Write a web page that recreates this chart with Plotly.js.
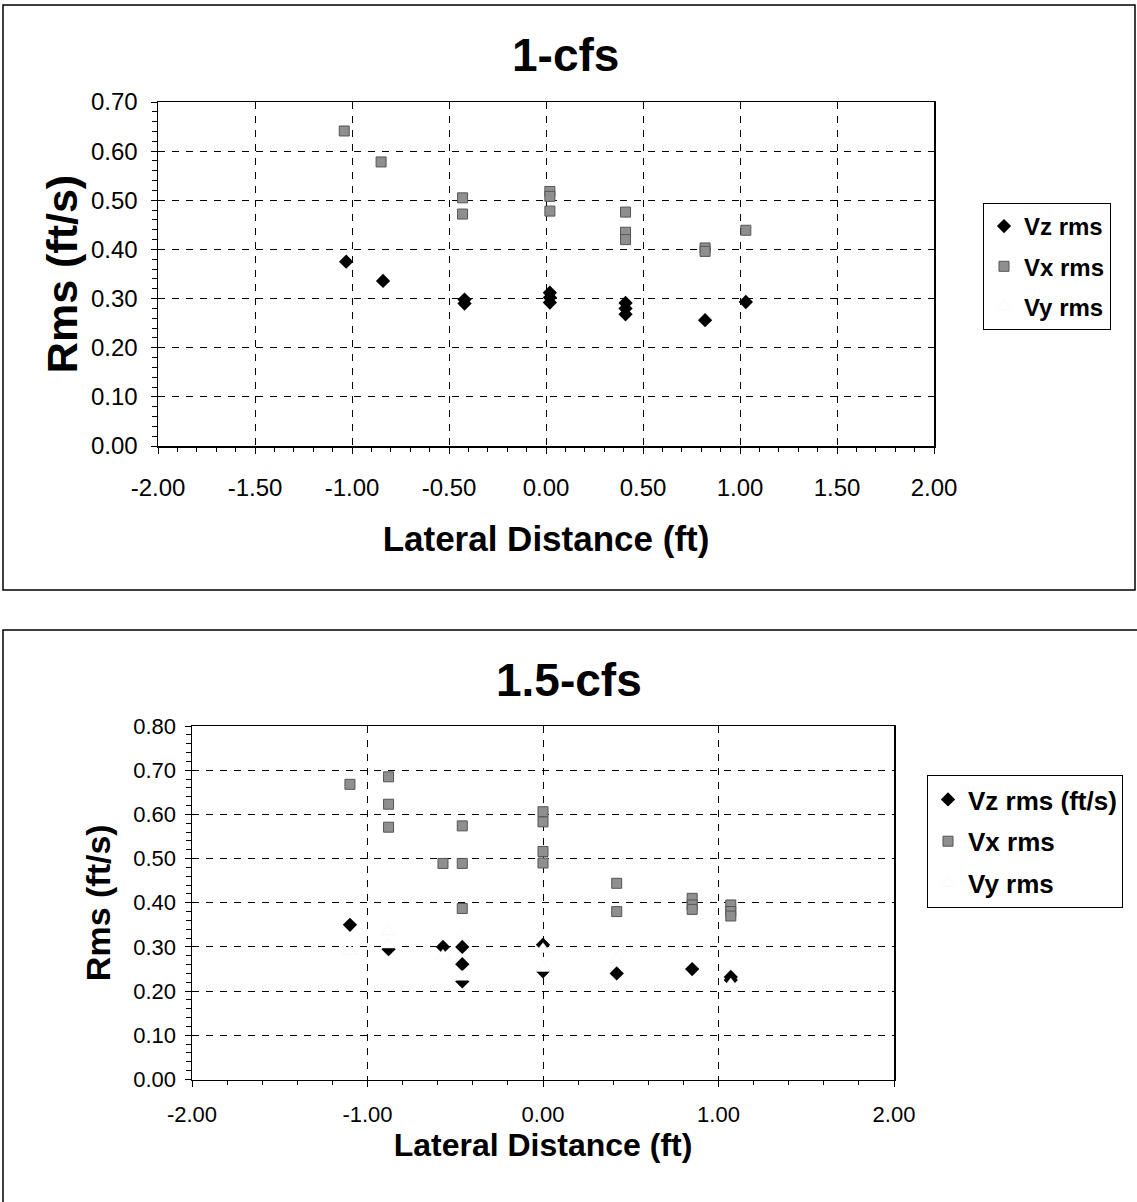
<!DOCTYPE html>
<html>
<head>
<meta charset="utf-8">
<script src="https://cdn.plot.ly/plotly-3.0.1.min.js"></script>
<style>
html,body{margin:0;padding:0;background:#fff;}
#chart{width:1137px;height:1202px;}
</style>
</head>
<body>
<div id="chart"></div>
<script>
// ---------- Chart 1: 1-cfs ----------
const title1 = "1-cfs";
const vzX1 = [-1.03, -0.84, -0.42, -0.42, 0.02, 0.02, 0.02, 0.41, 0.41, 0.41, 0.82, 1.03];
const vzY1 = [0.375, 0.336, 0.298, 0.290, 0.312, 0.302, 0.292, 0.291, 0.280, 0.268, 0.256, 0.293];
const vxX1 = [-1.04, -0.85, -0.43, -0.43, 0.02, 0.02, 0.02, 0.41, 0.41, 0.41, 0.82, 0.82, 1.03];
const vxY1 = [0.641, 0.578, 0.505, 0.472, 0.518, 0.508, 0.478, 0.476, 0.435, 0.420, 0.403, 0.396, 0.439];
// Vy rms has no visible points in this chart (legend entry only)
const vyX1 = [null];
const vyY1 = [null];
const names1 = ["Vz rms", "Vx rms", "Vy rms"];
const xTickVals1 = [-2, -1.5, -1, -0.5, 0, 0.5, 1, 1.5, 2];
const xTickText1 = ["-2.00", "-1.50", "-1.00", "-0.50", "0.00", "0.50", "1.00", "1.50", "2.00"];

// ---------- Chart 2: 1.5-cfs ----------
const title2 = "1.5-cfs";
const vzX2 = [-1.10, -0.88, -0.57, -0.46, -0.46, -0.46, 0.00, 0.00, 0.42, 0.85, 1.07, 1.07];
const vzY2 = [0.350, 0.295, 0.300, 0.300, 0.261, 0.222, 0.305, 0.245, 0.240, 0.250, 0.232, 0.225];
const vxX2 = [-1.10, -0.88, -0.88, -0.88, -0.57, -0.46, -0.46, -0.46, 0.00, 0.00, 0.00, 0.00, 0.42, 0.42, 0.85, 0.85, 0.85, 1.07, 1.07, 1.07];
const vxY2 = [0.668, 0.685, 0.623, 0.571, 0.489, 0.574, 0.489, 0.387, 0.606, 0.583, 0.516, 0.490, 0.444, 0.380, 0.410, 0.395, 0.385, 0.395, 0.380, 0.370];
const vyX2 = [-1.10, -0.88, -0.88, -0.57, -0.46, -0.46, 0.00, 0.00, 0.42, 0.85, 1.07];
const vyY2 = [0.290, 0.335, 0.305, 0.280, 0.325, 0.232, 0.295, 0.252, 0.272, 0.215, 0.215];
const names2 = ["Vz rms (ft/s)", "Vx rms", "Vy rms"];
const xTickVals2 = [-2, -1, 0, 1, 2];
const xTickText2 = ["-2.00", "-1.00", "0.00", "1.00", "2.00"];

const xTitle = "Lateral Distance (ft)";
const yTitle = "Rms (ft/s)";

const FONT = "Liberation Sans, Arial, sans-serif";
const W = 1137, H = 1202;
const px = v => v / W;
const py = v => 1 - v / H;

const zStyle = {symbol: "diamond", size: 11, color: "#000000", line: {width: 0}};
const xStyle = {symbol: "square", size: 10, color: "#8f8f8f", line: {width: 1, color: "#555555"}};
const yStyle = {symbol: "triangle-up", size: 13, color: "#ffffff", line: {width: 0.5, color: "#f0f0f0"}};

function trio(xs, ys, names, xa, ya, lg) {
  return [
    {type: "scatter", mode: "markers", x: xs[0], y: ys[0], name: names[0], marker: zStyle, xaxis: xa, yaxis: ya, legend: lg, legendgroup: lg + "a"},
    {type: "scatter", mode: "markers", x: xs[1], y: ys[1], name: names[1], marker: xStyle, xaxis: xa, yaxis: ya, legend: lg, legendgroup: lg + "b"},
    {type: "scatter", mode: "markers", x: xs[2], y: ys[2], name: names[2], marker: yStyle, xaxis: xa, yaxis: ya, legend: lg, legendgroup: lg + "c"}
  ];
}

const data = [].concat(
  trio([vzX1, vxX1, vyX1], [vzY1, vxY1, vyY1], names1, "x", "y", "legend"),
  trio([vzX2, vxX2, vyX2], [vzY2, vxY2, vyY2], names2, "x2", "y2", "legend2")
);

function axisBase(tickSize) {
  return {
    showgrid: true, gridcolor: "#000000", gridwidth: 1, griddash: "7px,7px",
    zeroline: false, showline: true, linecolor: "#000000", linewidth: 1.5, mirror: true,
    ticks: "outside", ticklen: 6, tickcolor: "#000000",
    tickfont: {family: FONT, size: tickSize, color: "#000000"}
  };
}

const layout = {
  width: W, height: H,
  margin: {l: 0, r: 0, t: 0, b: 0},
  paper_bgcolor: "#ffffff", plot_bgcolor: "#ffffff",
  showlegend: true,
  font: {family: FONT, color: "#000000"},
  xaxis: Object.assign(axisBase(24), {
    domain: [px(158), px(934)], range: [-2, 2], anchor: "y",
    tickmode: "array", tickvals: xTickVals1, ticktext: xTickText1,
    minor: {dtick: 0.1, ticks: "outside", ticklen: 4, tickcolor: "#000", showgrid: false},
    ticklabelstandoff: 14,
    title: {text: xTitle, font: {family: FONT, size: 35, weight: "bold", color: "#000"}, standoff: 26}
  }),
  yaxis: Object.assign(axisBase(24), {
    domain: [py(446), py(102)], range: [0, 0.7], anchor: "x",
    dtick: 0.1, tickformat: ".2f",
    minor: {dtick: 0.02, ticks: "outside", ticklen: 5, tickcolor: "#000", showgrid: false},
    ticklabelstandoff: 8,
    title: {text: yTitle, font: {family: FONT, size: 43, weight: "bold", color: "#000"}, standoff: 0}
  }),
  xaxis2: Object.assign(axisBase(22), {
    domain: [px(192), px(894)], range: [-2, 2], anchor: "y2",
    tickmode: "array", tickvals: xTickVals2, ticktext: xTickText2,
    minor: {dtick: 0.2, ticks: "outside", ticklen: 4, tickcolor: "#000", showgrid: false},
    ticklabelstandoff: 9,
    title: {text: xTitle, font: {family: FONT, size: 32, weight: "bold", color: "#000"}, standoff: 3}
  }),
  yaxis2: Object.assign(axisBase(22), {
    domain: [py(1079.5), py(726)], range: [0, 0.8], anchor: "x2",
    dtick: 0.1, tickformat: ".2f",
    minor: {dtick: 0.02, ticks: "outside", ticklen: 5, tickcolor: "#000", showgrid: false},
    ticklabelstandoff: 4,
    title: {text: yTitle, font: {family: FONT, size: 34, weight: "bold", color: "#000"}, standoff: 12}
  }),
  legend: {
    x: px(983), y: py(203), xanchor: "left", yanchor: "top",
    bgcolor: "#ffffff", bordercolor: "#000000", borderwidth: 1,
    font: {family: FONT, size: 24, weight: "bold", color: "#000"},
    traceorder: "grouped", tracegroupgap: 6, itemwidth: 30
  },
  legend2: {
    x: px(927), y: py(775), xanchor: "left", yanchor: "top",
    bgcolor: "#ffffff", bordercolor: "#000000", borderwidth: 1,
    font: {family: FONT, size: 26, weight: "bold", color: "#000"},
    traceorder: "grouped", tracegroupgap: 5, itemwidth: 30
  },
  annotations: [
    {xref: "paper", yref: "paper", x: px(565), y: py(55), xanchor: "center", yanchor: "middle",
     text: title1, showarrow: false, font: {family: FONT, size: 46, weight: "bold", color: "#000"}},
    {xref: "paper", yref: "paper", x: px(569), y: py(680), xanchor: "center", yanchor: "middle",
     text: title2, showarrow: false, font: {family: FONT, size: 46, weight: "bold", color: "#000"}}
  ],
  shapes: [
    {type: "rect", xref: "paper", yref: "paper", x0: px(3), x1: px(1135), y0: py(590), y1: py(5),
     line: {color: "#000", width: 1.5}, fillcolor: "rgba(0,0,0,0)", layer: "below"},
    {type: "rect", xref: "paper", yref: "paper", x0: px(3), x1: px(1145), y0: py(1210), y1: py(630),
     line: {color: "#000", width: 1.5}, fillcolor: "rgba(0,0,0,0)", layer: "below"}
  ]
};

Plotly.newPlot("chart", data, layout, {staticPlot: true, displayModeBar: false});
</script>
</body>
</html>
